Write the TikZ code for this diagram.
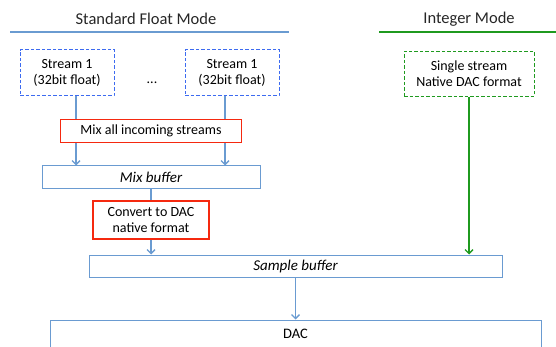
\documentclass[tikz,border=0pt]{standalone}
\usepackage{fontspec}
\setmainfont{Carlito}
\usetikzlibrary{arrows.meta}
\definecolor{lineblue}{HTML}{6A9BD1}
\definecolor{dashblue}{HTML}{3D6BF0}
\definecolor{boxred}{HTML}{F5290F}
\definecolor{lgreen}{HTML}{1F9A1F}
\tikzset{
  hdr/.style={font=\fontsize{16.5}{18}\selectfont, text=black!85},
  streambox/.style={draw=dashblue, line width=1pt, dash pattern=on 3.5pt off 2pt, align=center, font=\fontsize{14}{16}\selectfont, inner sep=0pt},
  intbox/.style={draw=lgreen, line width=1pt, dash pattern=on 3.5pt off 2pt, align=center, font=\fontsize{14}{16}\selectfont, inner sep=0pt},
  redbox/.style={draw=boxred, line width=1.6pt, fill=white, align=center, font=\fontsize{14}{16}\selectfont, inner sep=0pt},
  bufbox/.style={draw=lineblue, line width=1pt, fill=white, font=\fontsize{15}{17}\selectfont\itshape, inner sep=0pt},
  bluearrow/.style={draw=lineblue, line width=1.6pt, -{Straight Barb[length=4pt,width=8pt,line width=1.3pt]}},
  blueline/.style={draw=lineblue, line width=1.6pt},
  greenarrow/.style={draw=lgreen, line width=1.6pt, -{Straight Barb[length=4pt,width=8pt,line width=1.3pt]}},
}
\begin{document}
\begin{tikzpicture}[x=1pt,y=-1pt]
\useasboundingbox (0,0) rectangle (556,347);
% headers
\node[hdr] (hfloat) at (146,19) {Standard Float Mode};
\node[hdr] (hint) at (469,19) {Integer Mode};
\coordinate (bl1) at (10,32);
\coordinate (bl2) at (289,32);
\coordinate (gl1) at (379,32);
\coordinate (gl2) at (556,32);
\draw[lineblue, line width=2pt] (bl1) -- (bl2);
\draw[lgreen, line width=2pt] (gl1) -- (gl2);
% stream boxes
\node[streambox, minimum width=94pt, minimum height=46pt] (s1) at (67,73) {Stream 1\\(32bit float)};
\node[streambox, minimum width=94pt, minimum height=46pt] (s2) at (232,73) {Stream 1\\(32bit float)};
\node[font=\fontsize{14}{16}\selectfont] (dots) at (152,83) {...};
\node[intbox, minimum width=130pt, minimum height=45pt] (ib) at (469,74) {Single stream\\Native DAC format};
% process boxes
\node[redbox, minimum width=181pt, minimum height=23pt] (mix) at (151,131) {Mix all incoming streams};
\node[bufbox, minimum width=218pt, minimum height=23pt] (mixbuf) at (151,177.5) {Mix buffer};
\node[redbox, minimum width=116pt, minimum height=38pt] (conv) at (151,220) {Convert to DAC\\native format};
\node[bufbox, minimum width=413pt, minimum height=22pt] (sbuf) at (295.5,266) {Sample buffer};
\node[bufbox, minimum width=491pt, minimum height=50pt, anchor=north] (dac) at (295.5,319.5) {};
\node[font=\fontsize{14.5}{16}\selectfont, anchor=center] (dactext) at ([yshift=-14pt]dac.north) {DAC};
% connector columns
\coordinate (c1) at (76,0);
\coordinate (c2) at (225,0);
% connectors
\draw[blueline] (s1.south -| c1) -- (mix.north -| c1);
\draw[bluearrow] (mix.south -| c1) -- (mixbuf.north -| c1);
\draw[blueline] (s2.south -| c2) -- (mix.north -| c2);
\draw[bluearrow] (mix.south -| c2) -- (mixbuf.north -| c2);
\draw[blueline] (mixbuf.south) -- (conv.north);
\draw[bluearrow] (conv.south) -- (sbuf.north -| conv.south);
\draw[greenarrow] (ib.south) -- (sbuf.north -| ib.south);
\draw[bluearrow] (sbuf.south) -- (dac.north);
\end{tikzpicture}
\end{document}
